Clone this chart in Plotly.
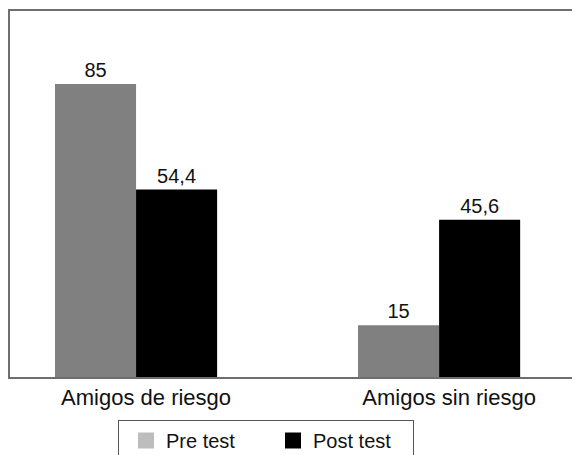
import plotly.graph_objects as go

categories = ["Amigos de riesgo", "Amigos sin riesgo"]
series_names = ["Pre test", "Post test"]
pre_test = [85, 15]
post_test = [54.4, 45.6]

bar_colors = ["#808080", "#000000"]
legend_colors = ["#bdbdbd", "#000000"]
font_family = "Liberation Sans, Arial, Helvetica, sans-serif"

# page body has an 8px margin; figure is offset by it
OFF = 8
W, H = 580 - OFF, 455 - OFF

x_idx = list(range(len(categories)))

fig = go.Figure()
for name, vals, col in zip(series_names, [pre_test, post_test], bar_colors):
    fig.add_trace(go.Bar(
        x=x_idx, y=vals, name=name, marker=dict(color=col, line=dict(width=0)),
        texttemplate="%{y}", textposition="outside",
        textfont=dict(size=20, color="#111111", family=font_family),
        cliponaxis=False, showlegend=False,
    ))
for name, col in zip(series_names, legend_colors):
    fig.add_trace(go.Scatter(
        x=[None], y=[None], mode="markers", name=name,
        marker=dict(symbol="square", size=18, color=col),
    ))

fig.update_layout(
    width=W, height=H,
    margin=dict(l=10 - OFF, r=0, t=11 - OFF, b=H - (377 - OFF)),
    paper_bgcolor="white", plot_bgcolor="white",
    separators=",.",
    barmode="group", bargap=0.465, bargroupgap=0,
    font=dict(family=font_family, size=20, color="#111111"),
    xaxis=dict(
        tickmode="array", tickvals=x_idx, ticktext=categories,
        range=[-0.416, 1.465], showgrid=False, zeroline=False,
        showline=True, linecolor="#6e6e6e", linewidth=2, mirror=True,
        ticks="", tickfont=dict(size=22, color="#111111"),
        ticklabelshift=10,
    ),
    yaxis=dict(
        range=[0, 106.2], showgrid=False, zeroline=False, showticklabels=False,
        showline=True, linecolor="#6e6e6e", linewidth=2, ticks="", mirror=False,
    ),
    legend=dict(
        orientation="h", xref="container", yref="container",
        x=(118 - OFF) / W, xanchor="left", y=1 - (420 - OFF) / H, yanchor="top",
        bordercolor="#555555", borderwidth=1, bgcolor="white",
        font=dict(size=20, color="#111111"),
        entrywidth=95, itemsizing="trace", indentation=7,
    ),
)

fig.write_html("out.html")
